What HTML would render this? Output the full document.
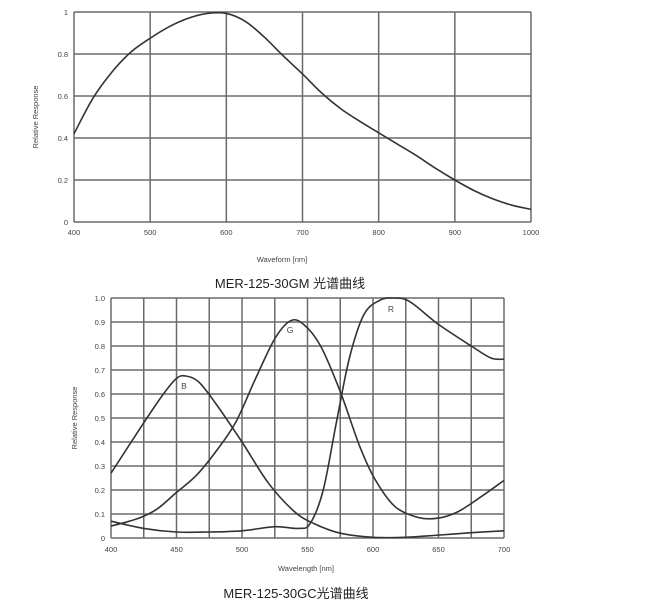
<!DOCTYPE html>
<html><head><meta charset="utf-8"><style>
body{margin:0;background:#fff;width:660px;height:614px;overflow:hidden}
svg{display:block}
text{font-family:"Liberation Sans",sans-serif;fill:#444}
.cap{font-family:"Liberation Sans","Noto Sans CJK SC",sans-serif;fill:#222;font-size:13px}
</style></head><body>
<svg id="s" width="660" height="614" viewBox="0 0 660 614" xmlns="http://www.w3.org/2000/svg">
<text class="cap" x="290" y="288" text-anchor="middle">MER-125-30GM 光谱曲线</text>
<text class="cap" x="296" y="598" text-anchor="middle">MER-125-30GC光谱曲线</text>
<text x="282" y="262" font-size="7.5" text-anchor="middle">Waveform [nm]</text>
<text x="306" y="571" font-size="7.5" text-anchor="middle">Wavelength [nm]</text>
<text transform="translate(38,117) rotate(-90)" font-size="7.5" text-anchor="middle">Relative Response</text>
<text transform="translate(77,418) rotate(-90)" font-size="7.5" text-anchor="middle">Relative Response</text>
<text x="184" y="389" font-size="8.5" text-anchor="middle">B</text>
<text x="290" y="333" font-size="8.5" text-anchor="middle">G</text>
<text x="391" y="312" font-size="8.5" text-anchor="middle">R</text>
</svg>
<script>
const S=document.getElementById('s'),NS='http://www.w3.org/2000/svg';
function el(t,a,txt){const e=document.createElementNS(NS,t);for(const k in a)e.setAttribute(k,a[k]);if(txt!==undefined)e.textContent=txt;S.appendChild(e);return e;}
function path(pts){let d='M'+pts[0][0]+','+pts[0][1];for(let i=0;i<pts.length-1;i++){const p0=pts[i-1]||pts[i],p1=pts[i],p2=pts[i+1],p3=pts[i+2]||p2;
d+=' C'+(p1[0]+(p2[0]-p0[0])/6)+','+(p1[1]+(p2[1]-p0[1])/6)+' '+(p2[0]-(p3[0]-p1[0])/6)+','+(p2[1]-(p3[1]-p1[1])/6)+' '+p2[0]+','+p2[1];}return d;}
{const L=74,R=531,T=12,B=222;const X=n=>L+(n-400)*(R-L)/600,Y=v=>B-v*(B-T);
for(let n=400;n<=1000;n+=100){el('line',{x1:X(n),x2:X(n),y1:T,y2:B,stroke:'#6a6a6a','stroke-width':1.5});el('text',{x:X(n),y:B+13,'font-size':7.5,'text-anchor':'middle'},n);}
for(let i=0;i<=5;i++){const v=i*0.2;el('line',{x1:L,x2:R,y1:Y(v),y2:Y(v),stroke:'#6a6a6a','stroke-width':1.5});el('text',{x:L-6,y:Y(v)+3,'font-size':7.5,'text-anchor':'end'},i==0?'0':i==5?'1':v.toFixed(1));}
const d=[[400,.42],[425,.59],[450,.715],[475,.81],[500,.875],[525,.93],[550,.97],[575,.993],[600,.993],[625,.955],[650,.88],[675,.79],[700,.705],[725,.615],[750,.54],[775,.48],[800,.425],[825,.37],[850,.315],[875,.255],[900,.2],[925,.15],[950,.11],[975,.08],[1000,.06]];
el('path',{d:path(d.map(p=>[X(p[0]),Y(p[1])])),fill:'none',stroke:'#333','stroke-width':1.6});}
{const L=111,R=504,T=298,B=538;const X=n=>L+(n-400)*(R-L)/300,Y=v=>B-v*(B-T);
for(let n=400;n<=700;n+=25){el('line',{x1:X(n),x2:X(n),y1:T,y2:B,stroke:'#6a6a6a','stroke-width':1.5});if(n%50==0)el('text',{x:X(n),y:B+14,'font-size':7.5,'text-anchor':'middle'},n);}
for(let i=0;i<=10;i++){const v=i/10;el('line',{x1:L,x2:R,y1:Y(v),y2:Y(v),stroke:'#6a6a6a','stroke-width':1.5});el('text',{x:L-6,y:Y(v)+3,'font-size':7.5,'text-anchor':'end'},i==0?'0':v.toFixed(1));}
const Bc=[[400,.27],[425,.48],[440,.6],[450,.665],[457,.675],[467,.65],[480,.56],[500,.4],[520,.23],[540,.11],[555,.06],[575,.02],[600,.003],[625,.003],[650,.012],[675,.022],[700,.03]];
const Rc=[[400,.07],[425,.04],[450,.025],[475,.025],[500,.03],[525,.047],[543,.04],[552,.06],[562,.2],[572,.48],[582,.75],[593,.93],[605,.99],[616,1.0],[628,.985],[650,.89],[675,.8],[690,.75],[700,.745]];
const Gc=[[400,.05],[420,.08],[435,.12],[450,.19],[465,.26],[480,.36],[495,.48],[510,.66],[525,.83],[537,.905],[547,.89],[560,.8],[575,.61],[590,.38],[602,.24],[617,.13],[635,.085],[650,.083],[665,.11],[682,.17],[700,.24]];
for(const c of [Bc,Rc,Gc])el('path',{d:path(c.map(p=>[X(p[0]),Y(p[1])])),fill:'none',stroke:'#333','stroke-width':1.6});}
</script>
</body></html>
